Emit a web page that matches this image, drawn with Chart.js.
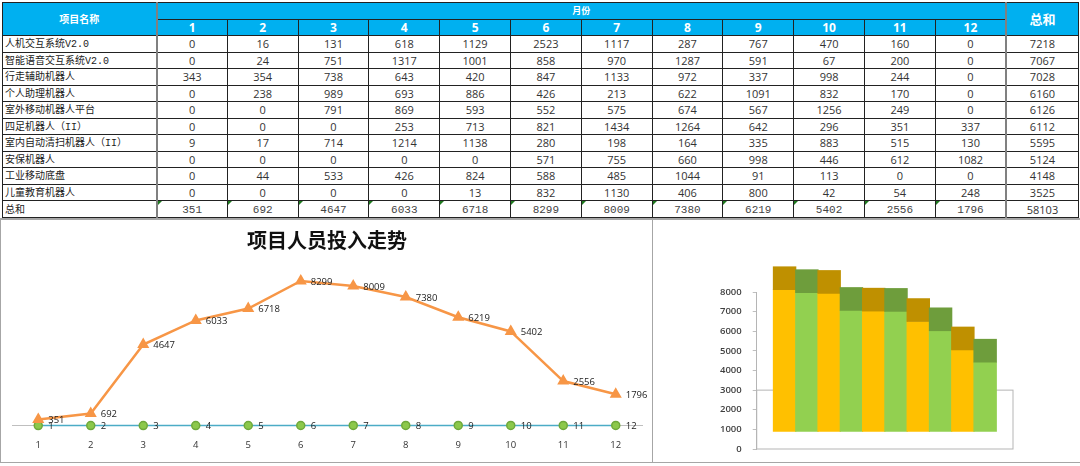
<!DOCTYPE html>
<html>
<head>
<meta charset="utf-8">
<script src="https://cdn.jsdelivr.net/npm/chart.js@4"></script>
<style>
    html, body { margin: 0; padding: 0; background: #fff; }
    body { width: 1080px; height: 466px; position: relative; overflow: hidden; font-family: "Open Sans", "Noto Sans CJK SC", sans-serif; }
    #sheet { position: absolute; left: 2px; top: 2px; width: 1076px; border-collapse: collapse; table-layout: fixed; font-size: 11px; color: #333; }
    #sheet td, #sheet th { border: 1px solid #222; padding: 0; height: 16.5px; line-height: 13px; text-align: center; box-sizing: border-box; overflow: hidden; white-space: nowrap; position: relative; }
    #sheet th { background: #00b0f0; color: #fff; font-weight: bold; }
    #sheet td.name { text-align: left; padding: 2px 0 0 2px; font-family: "Liberation Mono", "Noto Sans CJK SC", sans-serif; font-size: 10px; color: #222; }
    #sheet td.name, #sheet th.name { border-right: 2px solid #808080; }
    #sheet td.total, #sheet th.total { border-left: 2px solid #808080; }
    #sheet tr.sum td:not(.name):not(.total) { font-family: "Liberation Mono", monospace; font-size: 11px; padding-top: 3px; font-weight: normal; color: #444; }
    #sheet tr.sum td.flag::before { content: ""; position: absolute; left: 0; top: 0; border-top: 4px solid #1f7a1f; border-right: 4px solid transparent; }
    #trend { position: absolute; left: 2px; top: 218px; }
    #stack { position: absolute; left: 653px; top: 218px; }
    .rule { position: absolute; background: #a6a6a6; }
</style>
</head>
<body>
<table id="sheet"></table>
<div class="rule" style="left:0;top:218px;width:1080px;height:2px"></div>
<div class="rule" style="left:652px;top:218px;width:1px;height:244px"></div>
<div class="rule" style="left:0;top:218px;width:1px;height:244px"></div>
<div class="rule" style="left:0;top:462px;width:1080px;height:1px"></div>
<canvas id="trend"></canvas>
<canvas id="stack"></canvas>
<script>
const months = ['1', '2', '3', '4', '5', '6', '7', '8', '9', '10', '11', '12'];
const monthValues = [1, 2, 3, 4, 5, 6, 7, 8, 9, 10, 11, 12];
const projects = ['人机交互系统V2.0', '智能语音交互系统V2.0', '行走辅助机器人', '个人助理机器人', '室外移动机器人平台', '四足机器人（II）', '室内自动清扫机器人（II）', '安保机器人', '工业移动底盘', '儿童教育机器人'];
const hours1 = [0, 16, 131, 618, 1129, 2523, 1117, 287, 767, 470, 160, 0];
const hours2 = [0, 24, 751, 1317, 1001, 858, 970, 1287, 591, 67, 200, 0];
const hours3 = [343, 354, 738, 643, 420, 847, 1133, 972, 337, 998, 244, 0];
const hours4 = [0, 238, 989, 693, 886, 426, 213, 622, 1091, 832, 170, 0];
const hours5 = [0, 0, 791, 869, 593, 552, 575, 674, 567, 1256, 249, 0];
const hours6 = [0, 0, 0, 253, 713, 821, 1434, 1264, 642, 296, 351, 337];
const hours7 = [9, 17, 714, 1214, 1138, 280, 198, 164, 335, 883, 515, 130];
const hours8 = [0, 0, 0, 0, 0, 571, 755, 660, 998, 446, 612, 1082];
const hours9 = [0, 44, 533, 426, 824, 588, 485, 1044, 91, 113, 0, 0];
const hours10 = [0, 0, 0, 0, 13, 832, 1130, 406, 800, 42, 54, 248];
const projectTotals = [7218, 7067, 7028, 6160, 6126, 6112, 5595, 5124, 4148, 3525];
const monthTotals = [351, 692, 4647, 6033, 6718, 8299, 8009, 7380, 6219, 5402, 2556, 1796];
const grandTotal = 58103;
const stackTicks = [0, 1000, 2000, 3000, 4000, 5000, 6000, 7000, 8000];

// fake 3D depth of the bars, in axis units
const barLift = 900;
const capDepth = 1170;
const wallTop = 3000;

const hoursRows = [hours1, hours2, hours3, hours4, hours5, hours6, hours7, hours8, hours9, hours10];

function buildSheet() {
    let html = '<colgroup><col style="width:154px">';
    months.forEach(() => { html += '<col style="width:70.8px">'; });
    html += '<col style="width:72px"></colgroup>';
    html += '<tr><th class="name" rowspan="2" style="font-size:10px">项目名称</th><th colspan="12" style="font-size:9px">月份</th><th class="total" rowspan="2" style="font-size:13px">总和</th></tr>';
    html += '<tr>' + months.map((m) => `<th style="font-size:12px">${m}</th>`).join('') + '</tr>';
    projects.forEach((name, i) => {
        html += `<tr><td class="name">${name}</td>`;
        html += hoursRows[i].map((v) => `<td>${v}</td>`).join('');
        html += `<td class="total">${projectTotals[i]}</td></tr>`;
    });
    html += '<tr class="sum"><td class="name">总和</td>';
    html += monthTotals.map((v) => `<td class="flag">${v}</td>`).join('');
    html += `<td class="total">${grandTotal}</td></tr>`;
    document.getElementById('sheet').innerHTML = html;
}

// small labels to the right of each line point
const pointLabels = {
    id: 'pointLabels',
    afterDatasetsDraw(chart) {
        const ctx = chart.ctx;
        ctx.save();
        ctx.font = '9.5px "Open Sans"';
        ctx.fillStyle = '#222';
        ctx.textBaseline = 'middle';
        chart.data.datasets.forEach((dataset, d) => {
            chart.getDatasetMeta(d).data.forEach((point, i) => {
                ctx.fillText(String(dataset.data[i]), point.x + 10, point.y + 1);
            });
        });
        ctx.restore();
    }
};

// grey box behind the bars, the wall of the 3D chart
const wallBox = {
    id: 'wallBox',
    beforeDatasetsDraw(chart) {
        const { ctx, chartArea, scales } = chart;
        ctx.save();
        ctx.strokeStyle = '#b5b5b5';
        ctx.lineWidth = 1;
        ctx.strokeRect(chartArea.left, scales.y.getPixelForValue(wallTop), chartArea.right - chartArea.left, scales.y.getPixelForValue(0) - scales.y.getPixelForValue(wallTop));
        ctx.restore();
    }
};

document.addEventListener('DOMContentLoaded', function () {
    buildSheet();

    new Chart(document.getElementById('trend'), {
        type: 'line',
        plugins: [pointLabels],
        data: {
            labels: months,
            datasets: [
                { label: '总和', data: monthTotals, borderColor: '#f79646', backgroundColor: '#f79646', borderWidth: 2.5, pointStyle: 'triangle', pointRadius: 4.5, tension: 0, clip: false },
                { label: '月份', data: monthValues, borderColor: '#4bacc6', backgroundColor: '#8cc84b', pointBorderColor: '#6fa83c', borderWidth: 1.5, pointRadius: 4, tension: 0, clip: false }
            ]
        },
        options: {
            responsive: false,
            animation: false,
            layout: { padding: { left: 10, right: 10, bottom: 5 } },
            plugins: {
                legend: { display: false },
                tooltip: { enabled: false },
                title: { display: true, text: '项目人员投入走势', color: '#111', padding: { top: 10, bottom: 0 }, font: { family: '"Noto Sans CJK SC"', size: 20, weight: 'bold' } }
            },
            scales: {
                x: {
                    offset: true,
                    grid: { display: false },
                    border: { color: '#bfbfbf' },
                    ticks: { color: '#333', padding: 6, maxRotation: 0, font: { family: '"Open Sans"', size: 9.5 } }
                },
                y: { display: false, min: 0, max: 9960 }
            }
        }
    });

    const stackCanvas = document.getElementById('stack');
    stackCanvas.width = 425;
    stackCanvas.height = 244;
    const positions = projects.map((name, i) => i + 1);
    const barColors = projects.map((name, i) => (i % 2 === 0 ? '#ffc000' : '#92d050'));
    const capColors = projects.map((name, i) => (i % 2 === 0 ? '#bf9000' : '#6e9d3c'));

    new Chart(stackCanvas, {
        type: 'bar',
        plugins: [wallBox],
        data: {
            labels: projects,
            datasets: [
                { label: '顶面', data: projectTotals.map((v, i) => ({ x: positions[i], y: [v + barLift, v + barLift + capDepth] })), backgroundColor: capColors, grouped: false, clip: false, barThickness: 22.8 },
                { label: '总和', data: projectTotals.map((v, i) => ({ x: positions[i], y: [barLift, v + barLift] })), backgroundColor: barColors, grouped: false, clip: false, barThickness: 22.8 }
            ]
        },
        options: {
            responsive: false,
            animation: false,
            layout: { padding: { top: 74, right: 65, bottom: 13, left: 56 } },
            plugins: { legend: { display: false }, tooltip: { enabled: false } },
            scales: {
                x: { type: 'linear', offset: false, min: -0.25, max: 11.25, display: false },
                y: {
                    min: 0,
                    max: 8000,
                    afterBuildTicks(scale) { scale.ticks = stackTicks.map((value) => ({ value })); },
                    afterFit(scale) { scale.paddingTop = 0; scale.paddingBottom = 0; },
                    grid: { drawOnChartArea: false, color: '#bfbfbf', tickLength: 4 },
                    border: { color: '#b5b5b5' },
                    ticks: { color: '#404040', padding: 11, callback: (value) => String(value), font: { family: '"Open Sans"', size: 9.5, weight: '600' } }
                }
            }
        }
    });
});

document.getElementById('trend').width = 650;
document.getElementById('trend').height = 244;
</script>
</body>
</html>
